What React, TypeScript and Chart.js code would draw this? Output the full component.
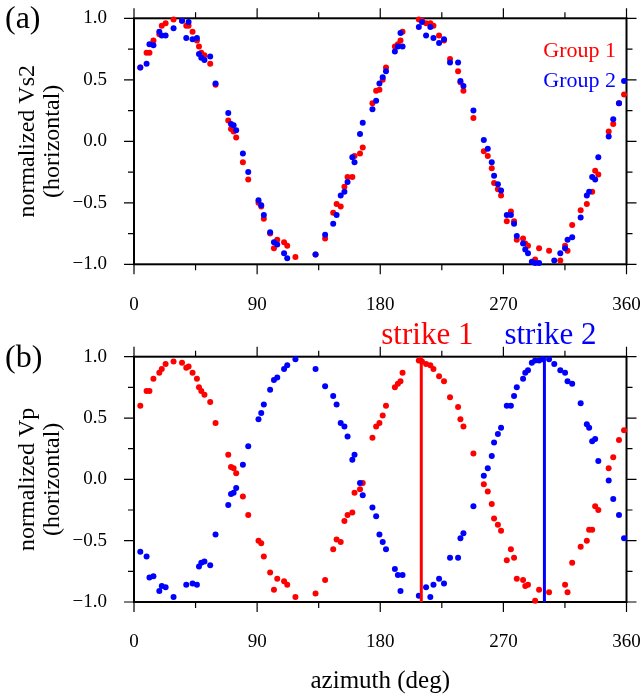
import React, { useEffect, useRef } from 'react';
import { Chart, registerables } from 'chart.js';

Chart.register(...registerables);

// ---------- data ----------
const AZIMUTH = [
  4.6, 9.2, 11.3, 14.2, 18.5, 20.3, 23.1, 28.9, 35.1, 38.2,
  39.9, 42.8, 46.0, 47.5, 49.2, 51.5, 55.7, 59.6, 68.9, 70.9,
  72.8, 74.7, 79.6, 83.5, 91.0, 93.0, 94.9, 99.5, 102.3, 104.7,
  109.7, 112.0, 118.0, 132.7, 139.7, 145.6, 148.1, 151.1, 153.8, 156.1,
  159.6, 161.2, 165.2, 167.2, 174.3, 177.0, 179.4, 181.8, 184.2, 190.7,
  192.9, 194.8, 196.3, 208.2, 210.5, 213.5, 216.6, 218.9, 223.0, 226.6,
  231.0, 236.9, 238.6, 240.8, 248.1, 255.7, 258.6, 261.5, 263.2, 266.0,
  268.3, 272.5, 275.5, 277.8, 279.8, 284.4, 286.0, 288.0, 290.8, 293.2,
  296.1, 298.5, 303.4, 307.2, 311.6, 315.1, 316.9, 320.3, 326.5, 331.0,
  332.7, 334.9, 337.1, 339.4, 347.0, 350.3, 354.5, 358.2,
];

const VS2_GROUP1 = [
  0.60, 0.72, 0.72, 0.82, 0.87, 0.94, 0.96, 0.99, 0.98, 0.94,
  0.94, 0.89, 0.82, 0.77, 0.72, 0.70, 0.63, 0.46, 0.17, 0.10,
  0.08, 0.03, -0.17, -0.31, -0.50, -0.53, -0.63, -0.75, -0.87, -0.80,
  -0.82, -0.85, -0.94, -0.92, -0.79, -0.58, -0.51, -0.53, -0.37, -0.29,
  -0.29, -0.12, -0.10, -0.05, 0.31, 0.41, 0.42, 0.50, 0.60, 0.77,
  0.79, 0.82, 0.89, 0.99, 0.98, 0.96, 0.96, 0.94, 0.86, 0.82,
  0.67, 0.57, 0.48, 0.41, 0.19, -0.08, -0.12, -0.22, -0.34, -0.39,
  -0.44, -0.65, -0.57, -0.65, -0.80, -0.79, -0.83, -0.85, null, -0.96,
  -0.87, null, -0.89, null, -0.97, -0.85, -0.89, -0.68, -0.56, -0.51,
  null, -0.41, -0.24, -0.27, 0.08, 0.14, 0.31, 0.38,
];

const VS2_GROUP2 = [
  0.60, 0.63, 0.79, 0.78, 0.89, 0.86, 0.86, 0.92, 0.98, 0.84,
  0.97, 0.83, 0.84, 0.71, 0.68, 0.66, 0.69, 0.47, 0.23, 0.14,
  0.13, 0.09, -0.10, -0.25, -0.48, -0.52, -0.60, -0.74, -0.82, -0.84,
  -0.91, -0.95, null, -0.92, -0.76, -0.67, -0.60, -0.44, -0.41, -0.33,
  -0.13, -0.17, 0.06, 0.15, 0.26, 0.33, 0.47, 0.52, 0.57, 0.73,
  0.77, 0.88, 0.77, 0.93, 0.97, 0.86, 0.93, 0.84, 0.80, 0.83,
  0.64, 0.64, 0.49, 0.45, 0.25, 0.01, -0.06, -0.17, -0.28, -0.35,
  -0.40, -0.60, -0.60, -0.67, -0.77, -0.83, -0.88, -0.91, -0.98, -0.99,
  -0.99, null, null, -0.97, -0.91, -0.87, -0.80, -0.78, -0.62, -0.44,
  -0.41, -0.29, -0.31, -0.13, 0.04, 0.18, 0.31, 0.49,
];

const VP_GROUP1 = [
  0.60, 0.72, 0.72, 0.82, 0.87, 0.90, 0.94, 0.96, 0.95, 0.91,
  0.92, 0.87, 0.82, 0.75, 0.72, 0.69, 0.63, 0.46, 0.20, 0.10,
  0.09, 0.05, -0.14, -0.29, -0.50, -0.52, -0.63, -0.76, -0.90, -0.81,
  -0.83, -0.86, -0.96, -0.93, -0.82, -0.57, -0.49, -0.51, -0.34, -0.29,
  -0.27, -0.11, -0.08, -0.03, 0.34, 0.43, 0.46, 0.52, 0.60, 0.75,
  0.78, 0.80, 0.87, 0.97, 0.96, 0.94, 0.93, 0.90, 0.84, 0.80,
  0.67, 0.59, 0.49, 0.43, 0.21, -0.04, -0.10, -0.20, -0.32, -0.37,
  -0.42, -0.66, -0.57, -0.64, -0.81, -0.82, -0.87, -0.86, null, -0.99,
  -0.90, null, -0.92, null, null, -0.86, -0.92, -0.68, -0.55, -0.50,
  -0.41, -0.41, -0.22, -0.25, 0.09, 0.18, 0.32, 0.40,
];

const VP_GROUP2 = [
  -0.59, -0.63, -0.80, -0.79, -0.91, -0.87, -0.88, -0.96, null, -0.86,
  null, -0.85, -0.86, -0.71, -0.68, -0.67, -0.70, -0.45, -0.21, -0.12,
  -0.11, -0.07, 0.12, 0.27, 0.49, 0.54, 0.61, 0.73, 0.81, 0.83,
  0.90, 0.93, 0.98, 0.90, 0.76, 0.68, 0.61, 0.46, 0.43, 0.35,
  0.16, 0.20, -0.03, -0.13, -0.23, -0.30, -0.45, -0.51, -0.57, -0.73,
  -0.78, -0.91, -0.78, -0.95, null, -0.88, -0.96, -0.86, -0.81, -0.85,
  -0.64, -0.64, -0.48, -0.44, -0.22, 0.03, 0.09, 0.19, 0.30, 0.37,
  0.42, 0.60, 0.60, 0.68, 0.75, 0.82, 0.87, 0.89, 0.95, 0.97,
  0.97, 0.98, 0.98, 0.94, 0.89, 0.87, 0.80, 0.78, 0.62, 0.45,
  0.42, 0.31, 0.33, 0.15, -0.01, -0.16, -0.29, -0.48,
];

const X_TICK_VALUES = [0, 45, 90, 135, 180, 225, 270, 315, 360];
const Y_TICK_VALUES = [-1, -0.75, -0.5, -0.25, 0, 0.25, 0.5, 0.75, 1];
const STRIKE_1 = 210;
const STRIKE_2 = 300;
const STRIKE_RANGE = [-1, 1];

const RED = '#ff0000';
const BLUE = '#0000ff';
const SERIF = '"Liberation Serif", "DejaVu Serif", serif';

function pairs(values: (number | null)[]) {
  return AZIMUTH.map((x, i) => ({ x, y: values[i] })).filter((p) => p.y !== null);
}

function fmtY(v: number) {
  const s = Math.abs(v).toFixed(1);
  return v < 0 ? '\u2212' + s : s;
}

const framePlugin = {
  id: 'frameAndText',
  beforeDatasetsDraw(chart: any) {
    const { ctx, chartArea, scales } = chart;
    const { left, right, top, bottom } = chartArea;
    const x = scales.x;
    const y = scales.y;
    ctx.save();
    ctx.strokeStyle = '#000';
    ctx.lineWidth = 1.2;
    ctx.beginPath();
    X_TICK_VALUES.forEach((v) => {
      const p = x.getPixelForValue(v);
      const len = v % 90 === 0 ? 10 : 6;
      ctx.moveTo(p, bottom);
      ctx.lineTo(p, bottom + len);
      ctx.moveTo(p, top);
      ctx.lineTo(p, top - len);
    });
    Y_TICK_VALUES.forEach((v) => {
      const p = y.getPixelForValue(v);
      const major = Math.abs(v * 2 - Math.round(v * 2)) < 1e-6;
      const len = major ? 10 : 6;
      ctx.moveTo(left, p);
      ctx.lineTo(left - len, p);
      ctx.moveTo(right, p);
      ctx.lineTo(right + len, p);
    });
    ctx.stroke();
    ctx.lineWidth = 2;
    ctx.strokeRect(left, top, right - left, bottom - top);
    ctx.restore();
  },
  afterDraw(chart: any, _args: any, opts: any) {
    const { ctx, scales } = chart;
    ctx.save();
    ctx.textBaseline = 'alphabetic';
    ctx.fillStyle = '#000';
    ctx.font = `32px ${SERIF}`;
    ctx.textAlign = 'left';
    ctx.fillText(opts.panel, 5, opts.panelBaseline);
    if (opts.legend) {
      ctx.font = `22px ${SERIF}`;
      ctx.textAlign = 'right';
      ctx.fillStyle = RED;
      ctx.fillText('Group 1', 616, 57);
      ctx.fillStyle = BLUE;
      ctx.fillText('Group 2', 616, 87);
    }
    if (opts.strikes) {
      ctx.font = `31px ${SERIF}`;
      ctx.textAlign = 'left';
      ctx.fillStyle = RED;
      ctx.fillText('strike 1', scales.x.getPixelForValue(STRIKE_1) - 40, 23.5);
      ctx.fillStyle = BLUE;
      ctx.fillText('strike 2', scales.x.getPixelForValue(STRIKE_2) - 40, 23.5);
    }
    ctx.restore();
  },
};

function makeConfig(p: {
  g1: (number | null)[];
  g2: (number | null)[];
  yTitle: string[];
  panel: string;
  panelBaseline: number;
  topPad: number;
  xAxisH: number;
  xTitle: boolean;
  strikes: boolean;
  legend: boolean;
}): any {
  const datasets: any[] = [];
  if (p.strikes) {
    datasets.push({
      label: 'strike 1',
      data: STRIKE_RANGE.map((v) => ({ x: STRIKE_1, y: v })),
      showLine: true,
      borderColor: RED,
      borderWidth: 3,
      pointRadius: 0,
      clip: false,
      order: 0,
    });
    datasets.push({
      label: 'strike 2',
      data: STRIKE_RANGE.map((v) => ({ x: STRIKE_2, y: v })),
      showLine: true,
      borderColor: BLUE,
      borderWidth: 3,
      pointRadius: 0,
      clip: false,
      order: 0,
    });
  }
  datasets.push({
    label: 'Group 2',
    data: pairs(p.g2),
    backgroundColor: BLUE,
    borderWidth: 0,
    pointRadius: 3,
    pointBorderWidth: 0,
    clip: false,
    order: 1,
  });
  datasets.push({
    label: 'Group 1',
    data: pairs(p.g1),
    backgroundColor: RED,
    borderWidth: 0,
    pointRadius: 3,
    pointBorderWidth: 0,
    clip: false,
    order: 2,
  });

  return {
    type: 'scatter',
    data: { datasets },
    plugins: [framePlugin],
    options: {
      responsive: false,
      maintainAspectRatio: false,
      animation: false,
      devicePixelRatio: 1,
      layout: { padding: { left: 0, right: 15.5, top: p.topPad, bottom: 0 } },
      plugins: {
        legend: { display: false },
        tooltip: { enabled: false },
        frameAndText: { panel: p.panel, panelBaseline: p.panelBaseline, legend: p.legend, strikes: p.strikes },
      },
      scales: {
        x: {
          type: 'linear',
          min: 0,
          max: 360,
          grid: { display: false },
          border: { display: false },
          afterFit: (s: any) => {
            s.height = p.xAxisH;
            s.paddingLeft = 0;
            s.paddingRight = 0;
          },
          ticks: {
            stepSize: 90,
            autoSkip: false,
            maxRotation: 0,
            minRotation: 0,
            padding: 21,
            color: '#000',
            font: { family: SERIF, size: 19 },
            callback: (v: number) => String(v),
          },
          title: {
            display: p.xTitle,
            text: 'azimuth (deg)',
            color: '#000',
            font: { family: SERIF, size: 25 },
            padding: 0,
          },
        },
        y: {
          type: 'linear',
          min: -1,
          max: 1,
          grid: { display: false },
          border: { display: false },
          afterFit: (s: any) => {
            s.width = 134;
            s.paddingTop = 0;
            s.paddingBottom = 0;
          },
          ticks: {
            stepSize: 0.5,
            padding: 19,
            color: '#000',
            font: { family: SERIF, size: 19 },
            callback: (v: number) => fmtY(v),
          },
          title: {
            display: true,
            text: p.yTitle,
            color: '#000',
            font: { family: SERIF, size: 24, lineHeight: 1.05 },
            padding: { top: 15, bottom: 0 },
          },
        },
      },
    },
  };
}

function Panel({ top, height, config }: { top: number; height: number; config: () => any }) {
  const ref = useRef<HTMLCanvasElement | null>(null);
  useEffect(() => {
    if (!ref.current) return;
    const chart = new Chart(ref.current, config());
    return () => chart.destroy();
  }, []);
  return (
    <canvas
      ref={ref}
      width={642}
      height={height}
      style={{ position: 'absolute', left: 0, top, width: 642, height, display: 'block' }}
    />
  );
}

export default function App() {
  return (
    <div style={{ position: 'absolute', left: 0, top: 0, width: 642, height: 696, background: '#fff' }}>
      <Panel
        top={0}
        height={320}
        config={() =>
          makeConfig({
            g1: VS2_GROUP1,
            g2: VS2_GROUP2,
            yTitle: ['normalized Vs2', '(horizontal)'],
            panel: '(a)',
            panelBaseline: 28,
            topPad: 18.3,
            xAxisH: 55.7,
            xTitle: false,
            strikes: false,
            legend: true,
          })
        }
      />
      <Panel
        top={320}
        height={376}
        config={() =>
          makeConfig({
            g1: VP_GROUP1,
            g2: VP_GROUP2,
            yTitle: ['normalized Vp', '(horizontal)'],
            panel: '(b)',
            panelBaseline: 47,
            topPad: 36.7,
            xAxisH: 94,
            xTitle: true,
            strikes: true,
            legend: false,
          })
        }
      />
    </div>
  );
}
